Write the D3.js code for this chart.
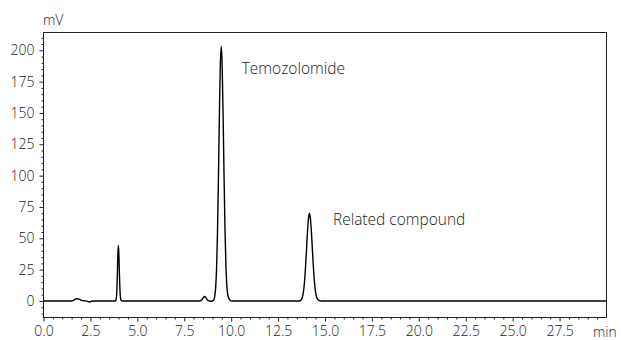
<!DOCTYPE html>
<html>
<head>
<meta charset="utf-8">
<script src="https://cdn.jsdelivr.net/npm/d3@7"></script>
<style>
  body { margin: 0; background: #fff; }
  text { font-family: "Open Sans", "Noto Sans", sans-serif; fill: #222; font-weight: 300; }
</style>
</head>
<body>
<div id="chart"></div>
<script>
// chromatogram: [time (min), signal (mV)]
var chromatogram = [
  [0, 0], [1.5, 0], [1.62, 0.8], [1.72, 1.6], [1.8, 1.8], [1.9, 1.4], [2.0, 0.7],
  [2.15, 0.2], [2.35, -0.3], [2.45, -0.9], [2.55, -0.2], [2.7, 0],
  [3.83, 0], [3.86, 0.7], [3.89, 3.7], [3.91, 9], [3.93, 18], [3.95, 29.6],
  [3.97, 40], [3.99, 44], [4.01, 40], [4.03, 30], [4.05, 19], [4.07, 10],
  [4.09, 4.5], [4.12, 1.2], [4.16, 0.2], [4.22, 0],
  [8.35, 0], [8.45, 1.2], [8.53, 3], [8.6, 3.6], [8.67, 2.2], [8.75, 0.6],
  [8.85, 0], [8.95, -0.3], [9.02, 0.3], [9.07, 0.8], [9.12, 3.5], [9.17, 10],
  [9.22, 25], [9.27, 54], [9.32, 96], [9.37, 146], [9.42, 187], [9.47, 203],
  [9.52, 188], [9.57, 148], [9.62, 100], [9.67, 58], [9.72, 29], [9.77, 12],
  [9.82, 5], [9.88, 2], [9.95, 0.5], [10.05, 0], [10.2, 0],
  [13.62, 0], [13.72, 0.8], [13.77, 2], [13.82, 4.6], [13.87, 9.5], [13.92, 17.5],
  [13.97, 29], [14.02, 42.5], [14.07, 56], [14.12, 66], [14.17, 70], [14.22, 66],
  [14.27, 56.5], [14.32, 43], [14.37, 30], [14.42, 18.5], [14.47, 10.5],
  [14.52, 5.2], [14.57, 2.4], [14.67, 0.5], [14.8, 0], [30, 0]
];

var xTicks = [0, 2.5, 5, 7.5, 10, 12.5, 15, 17.5, 20, 22.5, 25, 27.5];
var yTicks = [0, 25, 50, 75, 100, 125, 150, 175, 200];
var peakNames = ["Temozolomide", "Related compound"];
var peakTimes = [9.47, 14.17];
var peakHeights = [203, 70];

var w = 621, h = 340;
var svg = d3.select("#chart")
  .append("svg")
  .attr("width", w)
  .attr("height", h);

var x = d3.scaleLinear().domain([0, 30]).range([43.5, 606.5]);
var y = d3.scaleLinear().domain([-13.2, 214.2]).range([317.5, 32.5]);

// minor ticks
var xMinor = d3.range(0, 30.01, 0.5).filter(function(d){ return d % 2.5 !== 0; });
var yMinor = d3.range(-10, 211, 5).filter(function(d){ return d % 25 !== 0; });

svg.append("g")
  .attr("transform", "translate(0,317.5)")
  .call(d3.axisBottom(x).tickValues(xMinor).tickSize(2).tickSizeOuter(0).tickFormat(""));
svg.append("g")
  .attr("transform", "translate(43.5,0)")
  .call(d3.axisLeft(y).tickValues(yMinor).tickSize(2).tickSizeOuter(0).tickFormat(""));

svg.append("g")
  .attr("transform", "translate(0,317.5)")
  .call(d3.axisBottom(x).tickValues(xTicks).tickSize(4).tickPadding(5).tickSizeOuter(0)
    .tickFormat(d3.format(".1f")));
svg.append("g")
  .attr("transform", "translate(43.5,0)")
  .call(d3.axisLeft(y).tickValues(yTicks).tickSize(4).tickPadding(5).tickSizeOuter(0));

svg.selectAll(".domain").remove();
svg.selectAll(".tick line").attr("stroke", "#222");
svg.selectAll(".tick text").attr("font-size", 14).attr("font-family", null).attr("fill", "#222");

// frame
svg.append("rect")
  .attr("x", x(0)).attr("y", y(214.2))
  .attr("width", x(30) - x(0)).attr("height", y(-13.2) - y(214.2))
  .attr("fill", "none").attr("stroke", "#222").attr("stroke-width", 1);

// trace
var line = d3.line()
  .x(function(d){ return x(d[0]); })
  .y(function(d){ return y(d[1]); })
  .curve(d3.curveMonotoneX);

svg.append("path")
  .datum(chromatogram)
  .attr("d", line)
  .attr("fill", "none")
  .attr("stroke", "#000")
  .attr("stroke-width", 1.4);

// labels
svg.append("text").attr("x", 43).attr("y", 25).attr("font-size", 14).text("mV");
svg.append("text").attr("x", 593).attr("y", 336.5).attr("font-size", 14).text("min");

// peak names sit to the right of each apex
var labelShift = [[20.5, 27], [23.5, 12]];
svg.selectAll(".peak-label")
  .data(peakNames)
  .enter().append("text")
  .attr("class", "peak-label")
  .attr("x", function(d, i){ return x(peakTimes[i]) + labelShift[i][0]; })
  .attr("y", function(d, i){ return y(peakHeights[i]) + labelShift[i][1]; })
  .attr("font-size", 15.5)
  .text(function(d){ return d; });
</script>
</body>
</html>
